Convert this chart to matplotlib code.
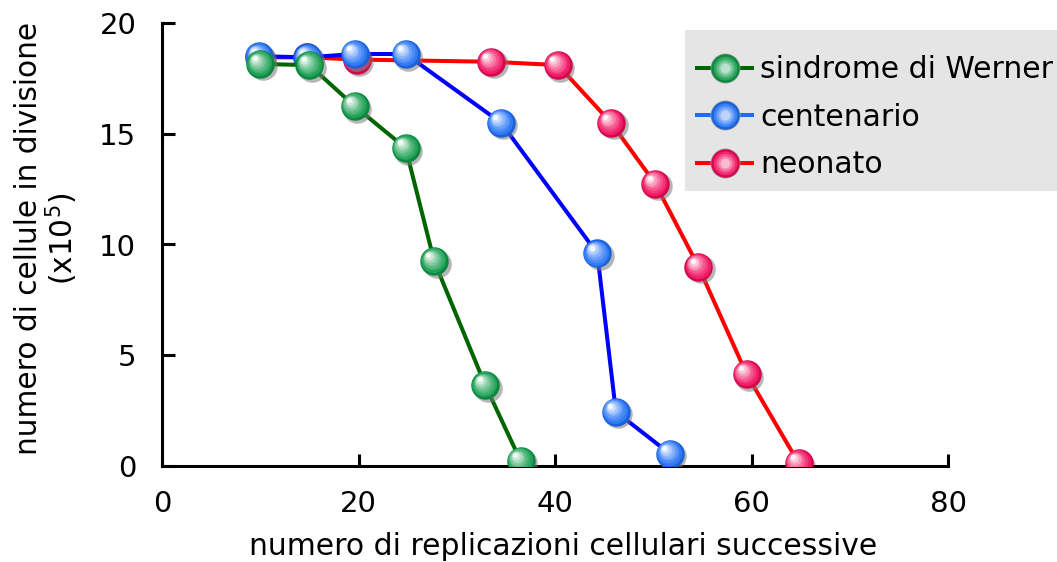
import numpy as np
import matplotlib
matplotlib.use('Agg')
import matplotlib.pyplot as plt
import matplotlib.transforms as mtransforms
from matplotlib.colors import to_rgb
from matplotlib.lines import Line2D
from matplotlib.patches import Rectangle
from matplotlib.legend_handler import HandlerTuple

# values
werner_x = [10, 15, 19.6, 24.8, 27.7, 32.9, 36.5]
werner_y = [18.15, 18.1, 16.25, 14.35, 9.25, 3.65, 0.23]

cent_x = [9.9, 14.8, 19.6, 24.8, 34.5, 44.3, 46.2, 51.7]
cent_y = [18.5, 18.45, 18.6, 18.6, 15.5, 9.6, 2.45, 0.55]

neo_x = [9.9, 14.8, 19.8, 33.5, 40.3, 45.7, 50.2, 54.6, 59.5, 64.8]
neo_y = [18.45, 18.45, 18.35, 18.25, 18.1, 15.5, 12.75, 9.0, 4.15, 0.13]

labels = ['sindrome di Werner', 'centenario', 'neonato']
line_colors = ['#006400', '#0000ff', '#ff0000']
legend_line_colors = ['#006400', '#1a6eff', '#ff0000']
ball_colors = ['#109a4a', '#1f6ff5', '#f00a5a']

FS = 21
LFS = 21.5
MS = 20.5
LW = 2.9

fig = plt.figure(figsize=(10.57, 5.62), dpi=100)
ax = fig.add_axes([162 / 1057, 1 - 466 / 562, (948 - 162) / 1057, (466 - 23) / 562])


def blend(c, t):
    c = np.array(to_rgb(c))
    return tuple(c + (1 - c) * t)


def darken(c, t):
    c = np.array(to_rgb(c))
    return tuple(c * (1 - t))


def ball_layers(col, n=7):
    # (size, color, dx, dy) for a fake shaded sphere
    out = [(MS, darken(col, 0.12), 0, 0)]
    for i in range(1, n + 1):
        f = i / n
        out.append((MS * (1 - 0.82 * f), blend(col, 0.95 * f ** 1.3),
                    -MS * 0.2 * f, MS * 0.2 * f))
    return out


handles = []
series = [(neo_x, neo_y, 2), (cent_x, cent_y, 1), (werner_x, werner_y, 0)]
for xs, ys, k in series:
    z = 2 + (2 - k) * 3
    ax.plot(xs, ys, color=line_colors[k], lw=LW, zorder=z)
    sh = mtransforms.offset_copy(ax.transData, fig, x=2.5, y=-2.5, units='dots')
    ax.plot(xs, ys, 'o', ms=MS, color='#7a7a7a', alpha=0.55, mew=0,
            transform=sh, zorder=z + 0.5)
    for s, c, dx, dy in ball_layers(ball_colors[k]):
        tr = mtransforms.offset_copy(ax.transData, fig, x=dx, y=dy, units='points')
        ax.plot(xs, ys, 'o', ms=s, color=c, mew=0, transform=tr, zorder=z + 1)

for k in range(3):
    parts = [Line2D([], [], color=legend_line_colors[k], lw=LW)]
    parts.append(Line2D([], [], ls='', marker='o', ms=MS + 1, color='#a0a0a0', mew=0))
    for s, c, dx, dy in ball_layers(ball_colors[k], n=5)[:-1]:
        parts.append(Line2D([], [], ls='', marker='o', ms=s, color=c, mew=0))
    handles.append(tuple(parts))

# grey legend box, drawn on its own so its padding can match
ax.add_patch(Rectangle((685 / 1057, 1 - 190.5 / 562), 0.5, (190.5 - 30) / 562,
                       transform=fig.transFigure, facecolor='#e5e5e5',
                       edgecolor='none', zorder=1, clip_on=False))

leg = ax.legend(handles, labels, handler_map={tuple: HandlerTuple(ndivide=1, pad=0)},
                loc='upper left', bbox_to_anchor=(697 / 1057, 1 - 55 / 562),
                bbox_transform=fig.transFigure, fontsize=LFS, frameon=False,
                borderpad=0, labelspacing=0.62, handlelength=1.85, handletextpad=0.27,
                borderaxespad=0)
leg.set_zorder(20)

ax.set_xlim(0, 80)
ax.set_ylim(0, 20)
ax.set_xticks([0, 20, 40, 60, 80])
ax.set_yticks([0, 5, 10, 15, 20])
for s in ['top', 'right']:
    ax.spines[s].set_visible(False)
for s in ['left', 'bottom']:
    ax.spines[s].set_linewidth(2.2)
ax.tick_params(direction='in', length=9, width=2.2, labelsize=FS)
ax.tick_params(axis='x', pad=17.5)
ax.tick_params(axis='y', pad=18.5)
ax.set_xlabel('numero di replicazioni cellulari successive', fontsize=LFS, labelpad=10)
ax.xaxis.label.set_x(0.51)
ax.set_ylabel('numero di cellule in divisione\n(x10$^5$)', fontsize=21.3,
              labelpad=14, linespacing=1.0)
ax.yaxis.label.set_y(0.513)

fig.savefig('out.png', dpi=100)
